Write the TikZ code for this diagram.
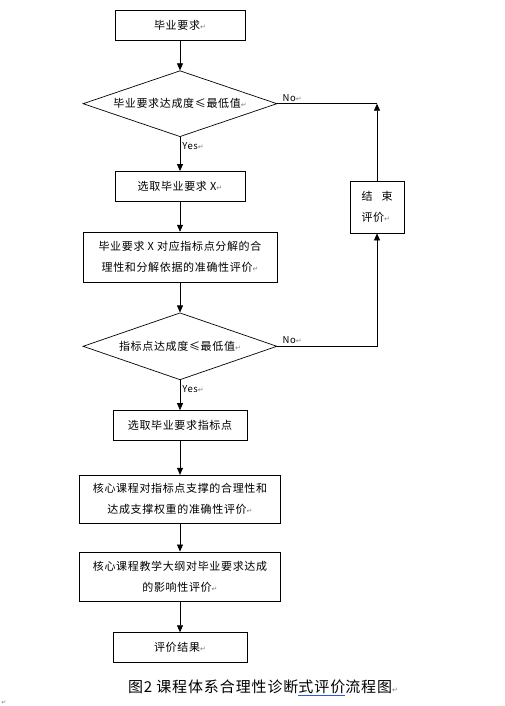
\documentclass[tikz,border=0pt]{standalone}
\usepackage{fontspec}
\setmainfont[LetterSpace=6]{Noto Sans CJK SC}
\newfontfamily\symfont{DejaVu Sans}
\usetikzlibrary{shapes.geometric,arrows.meta,positioning}
\definecolor{markgray}{RGB}{128,128,128}
\definecolor{spellblue}{RGB}{40,90,220}
\newcommand{\retmark}{{\symfont\color{markgray}\fontsize{7}{7}\selectfont ↵}}
\tikzstyle{stepbox} = [rectangle,
                      draw=black,
                      line width=0.7pt,
                      inner sep=0pt,
                      align=center,
                      font=\fontsize{11}{21}\selectfont]
\tikzstyle{check} = [diamond,
                    draw=black,
                    line width=0.7pt,
                    aspect=2.94,
                    minimum width=194pt,
                    minimum height=66pt,
                    inner sep=0pt,
                    font=\fontsize{11}{21}\selectfont]
\tikzstyle{answer} = [font=\fontsize{9.5}{9.5}\selectfont,
                     inner sep=2pt]
\tikzstyle{flow} = [x=1pt, y=-1pt,
                   node distance=30pt,
                   >={Triangle[width=6pt,length=7pt]},
                   line width=0.7pt]

\begin{document}
\begin{tikzpicture}[flow]
    \useasboundingbox (0,0) rectangle (505,706);
    \node (req) at (180,25) [stepbox, minimum width=130pt, minimum height=30pt] {毕业要求\retmark};
    \node (chk1) [below =of req] [check] {毕业要求达成度≤最低值\retmark};
    \node (pick) [below =34pt of chk1] [stepbox, minimum width=130pt, minimum height=30pt] {选取毕业要求 X\retmark};
    \node (eval1) [below =of pick] [stepbox, minimum width=194pt, minimum height=50pt] {毕业要求 X 对应指标点分解的合\\理性和分解依据的准确性评价\retmark};
    \node (chk2) [below =of eval1] [check, minimum height=67pt] {指标点达成度≤最低值\retmark};
    \node (point) [below =of chk2] [stepbox, minimum width=134pt, minimum height=30pt] {选取毕业要求指标点};
    \node (eval2) [below =34pt of point] [stepbox, minimum width=201pt, minimum height=48pt] {核心课程对指标点支撑的合理性和\\达成支撑权重的准确性评价\retmark};
    \node (eval3) [below =28pt of eval2] [stepbox, minimum width=201pt, minimum height=49pt] {核心课程教学大纲对毕业要求达成\\的影响性评价\retmark};
    \node (result) [below =31pt of eval3] [stepbox, minimum width=134pt, minimum height=30pt] {评价结果\retmark};
    \node (stop) at (377,207) [stepbox, minimum width=54pt, minimum height=52pt, align=left] {结\hspace{9pt}束\\评价\retmark};
    \coordinate (turn1) at (stop.north |- chk1.east);
    \coordinate (turn2) at (stop.south |- chk2.east);
    % caption
    \node (caption) at (263,688) [font=\fontsize{15}{15}\selectfont] {图2\hspace{4pt}课程体系合理性诊断{\color{spellblue}\underline{\color{black}式评价}}流程图\retmark};
    \node (mark) at (4,703) [font=\fontsize{6}{6}\selectfont\symfont, text=markgray, inner sep=0pt] {↵};
    \path[->]
      (req) edge (chk1)
      (chk1) edge node [answer, pos=0.1, anchor=north west] {Yes\retmark} (pick)
      (pick) edge (eval1)
      (eval1) edge (chk2)
      (chk2) edge node [answer, pos=0.1, anchor=north west] {Yes\retmark} (point)
      (point) edge (eval2)
      (eval2) edge (eval3)
      (eval3) edge (result)
      (stop) edge (turn1);
    \draw (chk1.east) -- node [answer, pos=0, anchor=south west, xshift=3pt] {No\retmark} (turn1);
    \draw[->] (chk2.east) -- node [answer, pos=0, anchor=south west, xshift=3pt] {No\retmark} (turn2) -- (stop);
\end{tikzpicture}
\end{document}
